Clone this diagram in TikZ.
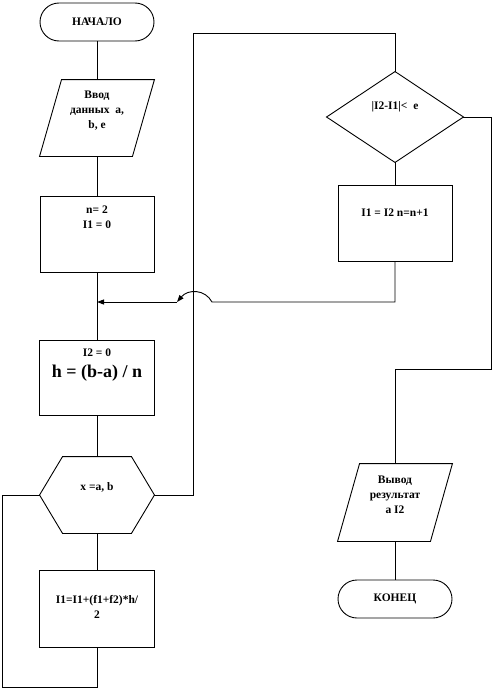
\documentclass[tikz,border=0pt]{standalone}
\usepackage{fontspec}
\setmainfont{Liberation Serif}
\usetikzlibrary{arrows.meta}
\begin{document}
\begin{tikzpicture}[x=1pt,y=-1pt, line width=0.9pt,
  every node/.style={font=\bfseries\fontsize{11.5}{15}\selectfont, inner sep=0pt, align=center},
  box/.style={draw, minimum width=114pt, minimum height=76pt},
  term/.style={draw, rounded corners=19pt, minimum width=114pt, minimum height=38pt},
  frame/.style={minimum width=114pt, minimum height=76pt},
  bigtext/.style={font=\bfseries\fontsize{18}{20}\selectfont},
  tip/.style={-{Triangle[length=7pt,width=5pt]}}
]
\useasboundingbox (0,0) rectangle (492,688);

% left column
\node[term] (start) at (97,22) {НАЧАЛО};

\node[frame] (in) at (97,118) {};
\draw ([xshift=22pt]in.north west) -- (in.north east) -- ([xshift=-22pt]in.south east) -- (in.south west) -- cycle;
\node (intxt) at (97,111) {Ввод\\данных~~a,\\b, e};

\node[box] (init) at (97,234) {};
\node (inittxt) at (97,217) {n= 2\\I1 = 0};

\node[box, minimum height=75pt, minimum width=115pt] (b2) at (97,377.5) {};
\node (b2a) at (97,353) {I2 = 0};
\node[bigtext] (b2b) at (97,373) {h = (b-a) / n};

\node[frame] (hex) at (97,495) {};
\draw (hex.west) -- ([xshift=23pt]hex.north west) -- ([xshift=-23pt]hex.north east) -- (hex.east) -- ([xshift=-23pt]hex.south east) -- ([xshift=23pt]hex.south west) -- cycle;
\node (hextxt) at (97,487) {x =a, b};

\node[box, minimum height=77pt, minimum width=115pt] (calc) at (97,608.5) {};
\node (calctxt) at (97,607) {I1=I1+(f1+f2)*h/\\2};

% right column
\node[minimum width=136pt, minimum height=90pt] (dia) at (395,117) {};
\draw (dia.north) -- (dia.east) -- (dia.south) -- (dia.west) -- cycle;
\node (diatxt) at (395,107) {|I2-I1|<~~e};

\node[box] (upd) at (395,223) {};
\node (updtxt) at (395,213) {I1 = I2 n=n+1};

\node[frame, minimum height=77pt] (out) at (395,502.5) {};
\draw ([xshift=22pt]out.north west) -- (out.north east) -- ([xshift=-22pt]out.south east) -- (out.south west) -- cycle;
\node (outtxt) at (395,495) {Вывод\\результат\\а I2};

\node[term] (end) at (395,599) {КОНЕЦ};

% coordinates
\coordinate (m) at (97,302);
\coordinate (j1) at (212,302);
\coordinate (j2) at (177,302);
\coordinate (t1) at (193,33);
\coordinate (l1) at (2,687);
\coordinate (r1) at (491,369);

% connectors
\draw (start.south) -- (in.north);
\draw (in.south) -- (init.north);
\draw (init.south) -- (b2.north);
\draw (b2.south) -- (hex.north);
\draw (hex.south) -- (calc.north);
\draw (hex.west) -| (l1) -| (calc.south);
\draw (hex.east) -| (t1) -| (dia.north);
\draw (dia.south) -- (upd.north);
\draw[tip] (upd.south) |- (j1) .. controls (205,289) and (188,289) .. (j2);
\draw[tip] (j2) -- (m);
\draw (dia.east) -| (r1) -| (out.north);
\draw (out.south) -- (end.north);
\end{tikzpicture}
\end{document}
